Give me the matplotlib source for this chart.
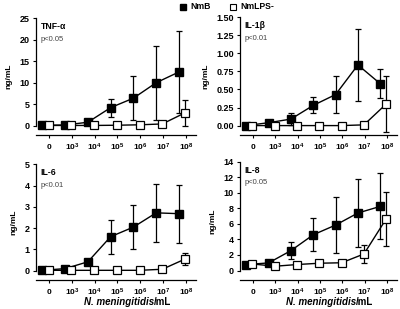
import numpy as np
import matplotlib.pyplot as plt
import matplotlib as mpl
from matplotlib.lines import Line2D

mpl.rcParams['font.family'] = ['Liberation Sans', 'DejaVu Sans']
mpl.rcParams['font.weight'] = 'bold'
mpl.rcParams['mathtext.fontset'] = 'custom'
mpl.rcParams['mathtext.rm'] = 'Liberation Sans:bold'
mpl.rcParams['mathtext.it'] = 'Liberation Sans:italic:bold'
mpl.rcParams['axes.linewidth'] = 0.9

# x categories (dose of N. meningitidis/mL)
doses = ["$0$", "$10^3$", "$10^4$", "$10^5$", "$10^6$", "$10^7$", "$10^8$"]

# TNF-a
tnf_nmb = [0.1, 0.15, 0.8, 4.2, 6.4, 10.0, 12.5]
tnf_nmb_err = [0.1, 0.2, 0.3, 2.1, 5.1, 8.6, 9.5]
tnf_lps = [0.05, 0.05, 0.05, 0.1, 0.2, 0.4, 3.0]
tnf_lps_err = [0, 0, 0, 0, 0, 0.2, 3.0]

# IL-1b
il1_nmb = [0.0, 0.04, 0.09, 0.28, 0.43, 0.84, 0.58]
il1_nmb_err = [0.01, 0.03, 0.08, 0.11, 0.25, 0.5, 0.2]
il1_lps = [0.0, 0.0, 0.0, 0.0, 0.0, 0.01, 0.30]
il1_lps_err = [0, 0, 0, 0, 0, 0.01, 0.39]

# IL-6
il6_nmb = [0.02, 0.1, 0.42, 1.6, 2.05, 2.72, 2.68]
il6_nmb_err = [0.02, 0.05, 0.12, 0.8, 1.03, 1.37, 1.37]
il6_lps = [0.02, 0.02, 0.02, 0.02, 0.02, 0.07, 0.55]
il6_lps_err = [0, 0, 0, 0, 0, 0.03, 0.3]

# IL-8
il8_nmb = [0.77, 0.98, 2.56, 4.6, 5.85, 7.4, 8.25]
il8_nmb_err = [0.15, 0.2, 1.05, 2.15, 3.6, 4.4, 4.25]
il8_lps = [0.85, 0.55, 0.77, 0.94, 1.0, 2.13, 6.66]
il8_lps_err = [0.2, 0.1, 0.1, 0.1, 0.1, 1.15, 3.5]

panels = [
    ("TNF-α", "p<0.05", tnf_nmb, tnf_nmb_err, tnf_lps, tnf_lps_err, 25, [0, 5, 10, 15, 20, 25], None),
    ("IL-1β", "p<0.01", il1_nmb, il1_nmb_err, il1_lps, il1_lps_err, 1.5, [0, 0.25, 0.5, 0.75, 1.0, 1.25, 1.5], "{:.2f}"),
    ("IL-6", "p<0.01", il6_nmb, il6_nmb_err, il6_lps, il6_lps_err, 5, [0, 1, 2, 3, 4, 5], None),
    ("IL-8", "p<0.05", il8_nmb, il8_nmb_err, il8_lps, il8_lps_err, 14, [0, 2, 4, 6, 8, 10, 12, 14], None),
]

W, H = 400, 309
# axes boxes in pixels: left, top, right, bottom
boxes = [(36, 18.3, 196, 135), (240, 17.3, 397, 135),
         (36, 164.3, 196, 280), (240, 161.7, 397, 280)]

fig = plt.figure(figsize=(4, 3.09), dpi=100)
x = np.arange(len(doses))
for (title, pval, nmb, nmb_err, lps, lps_err, ymax, yticks, fmt), (l, t, r, b) in zip(panels, boxes):
    ax = fig.add_axes([l / W, 1 - b / H, (r - l) / W, (b - t) / H])
    pad = 0.08
    ax.set_ylim(-pad / (1 - pad) * ymax, ymax)
    ax.set_xlim(-0.58, 6.45)
    ax.errorbar(x - 0.3, nmb, yerr=nmb_err, color='black', marker='s', ms=5.2,
                mfc='black', mec='black', lw=1.0, elinewidth=0.9, capsize=2.2, capthick=0.9, zorder=3)
    ax.errorbar(x - 0.03, lps, yerr=lps_err, color='black', marker='s', ms=5.2,
                mfc='white', mec='black', mew=0.9, lw=1.0, elinewidth=0.9, capsize=2.2, capthick=0.9, zorder=4)
    ax.spines['top'].set_visible(False)
    ax.spines['right'].set_visible(False)
    ax.spines['left'].set_bounds(0, ymax)
    ax.set_yticks(yticks)
    if fmt:
        ax.set_yticklabels([fmt.format(v) for v in yticks])
    ax.set_xticks(x)
    ax.set_xticklabels(doses, fontsize=6)
    ax.tick_params(axis='y', labelsize=6.5, length=2.5, width=0.8, pad=2)
    ax.tick_params(axis='x', length=2.5, width=0.8, pad=2.5)
    ax.set_ylabel("ng/mL", fontsize=6, fontweight='bold', labelpad=5)
    ax.text(0.03, 0.965, title, transform=ax.transAxes, fontsize=6.2, fontweight='bold', va='top')
    ax.text(0.03, 0.85, pval, transform=ax.transAxes, fontsize=5.5, fontweight='normal', color='#444444', va='top')
    if t > 100:
        tr = ax.get_xaxis_transform()
        ax.text(4.6, -0.19, "N. meningitidis", transform=tr, ha='right', va='center',
                fontsize=7, fontweight='bold', style='italic')
        ax.text(4.6, -0.19, "/mL", transform=tr, ha='left', va='center',
                fontsize=7, fontweight='bold')

fig.lines.append(Line2D([183 / W], [1 - 6.5 / H], marker='s', ms=4.5, color='black', transform=fig.transFigure))
fig.text(190 / W, 1 - 6.5 / H, "NmB", fontsize=6.2, fontweight='bold', va='center')
fig.lines.append(Line2D([233 / W], [1 - 6.5 / H], marker='s', ms=4.5, mfc='white', mec='black', mew=0.8,
                        transform=fig.transFigure))
fig.text(240 / W, 1 - 6.5 / H, "NmLPS-", fontsize=6.2, fontweight='bold', va='center')

fig.savefig("out.png", dpi=100)
